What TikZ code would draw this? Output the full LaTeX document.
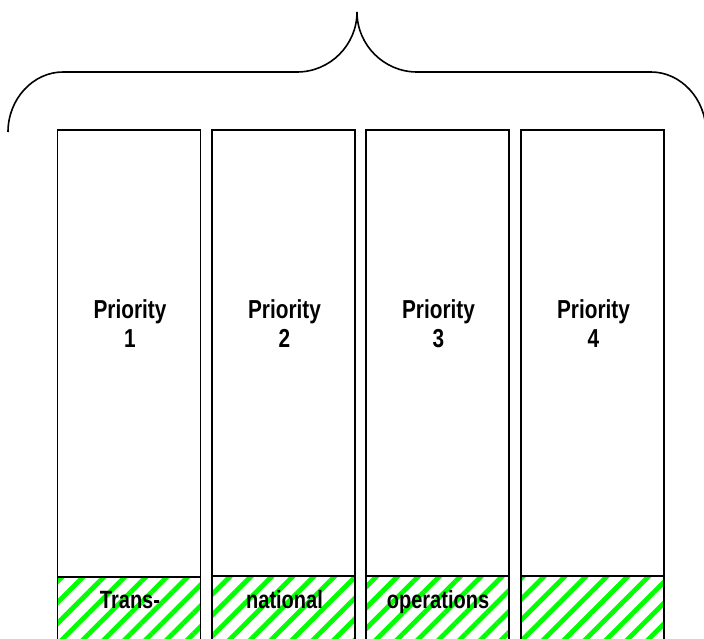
\documentclass[tikz,border=0pt]{standalone}
\usepackage{fontspec}
\setmainfont{Liberation Sans}[FakeStretch=0.8]
\usetikzlibrary{patterns.meta}
\definecolor{hatchgreen}{RGB}{0,255,0}
\tikzset{
  col/.style={draw=black, line width=1.9pt, minimum width=143pt, minimum height=531pt, inner sep=0pt, anchor=north},
  band/.style={draw=black, line width=1.9pt, minimum width=143pt, minimum height=85pt, inner sep=0pt, anchor=north,
    pattern={Lines[angle=45, distance=14.8pt, line width=4.8pt]}, pattern color=hatchgreen},
  prio/.style={font=\bfseries\fontsize{26}{29}\selectfont, align=center, inner sep=0pt},
  foot/.style={font=\bfseries\fontsize{25}{29}\selectfont, inner sep=0pt, anchor=base},
  brace/.style={draw=black, line width=1.6pt}
}
\begin{document}
\begin{tikzpicture}[x=1pt, y=-1pt]
\clip (0,0) rectangle (704,639);
\useasboundingbox (0,0) rectangle (704,639);
% columns
\foreach \i/\cx in {1/129, 2/283.5, 3/437.5, 4/592.5} {
  \node[band] (b\i) at (\cx,575) {};
  \node[col] (c\i) at (\cx,129) {};
}
\node[prio] (t1) at (130,324) {Priority\\1};
\node[prio] (t2) at (284.5,324) {Priority\\2};
\node[prio] (t3) at (438.5,324) {Priority\\3};
\node[prio] (t4) at (593.5,324) {Priority\\4};
\node[foot] (f1) at (130,608) {Trans-};
\node[foot] (f2) at (284.5,608) {national};
\node[foot] (f3) at (438,608) {operations};
% brace
\coordinate (bl) at (8,132);
\coordinate (bt) at (357,12);
\coordinate (br) at (706,132);
\draw[brace] (bl) .. controls (8,99) and (33,72) .. (63,72) -- (297,72)
  .. controls (330,72) and (357,45) .. (bt)
  .. controls (357,45) and (384,72) .. (417,72) -- (651,72)
  .. controls (681,72) and (706,99) .. (br);
\end{tikzpicture}
\end{document}
